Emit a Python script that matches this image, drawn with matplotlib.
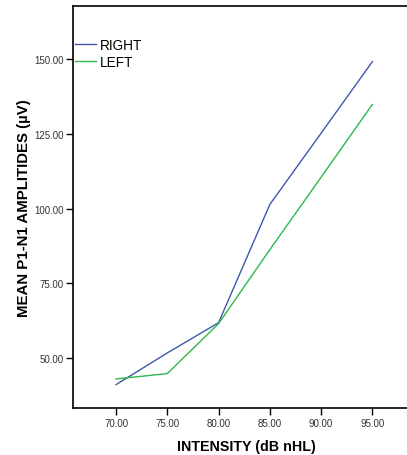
import matplotlib
matplotlib.use("Agg")
import matplotlib.pyplot as plt

intensity = [70, 75, 80, 85, 90, 95]
right_vals = [41.2, 51.8, 61.9, 101.4, 125.2, 149.1]
left_vals = [43.1, 44.9, 61.6, 86.3, 110.5, 134.8]
xticks = [70, 75, 80, 85, 90, 95]
yticks = [50, 75, 100, 125, 150]

plt.rcParams['font.family'] = ['Liberation Sans', 'DejaVu Sans']

W, H = 407, 456
fig = plt.figure(figsize=(W / 100, H / 100), dpi=100)
left_px, right_px, top_px, bottom_px = 73.3, 419.0, 7.3, 409.3
ax = fig.add_axes([left_px / W, 1 - bottom_px / H, (right_px - left_px) / W, (bottom_px - top_px) / H])

ax.plot(intensity, right_vals, color='#3E58AC', lw=1.0, label='RIGHT')
ax.plot(intensity, left_vals, color='#2EB848', lw=1.0, label='LEFT')

ax.set_xlim(65.83, 99.55)
ax.set_ylim(33.3, 167.6)
ax.set_xticks(xticks)
ax.set_xticklabels([f"{v:.2f}" for v in xticks])
ax.set_yticks(yticks)
ax.set_yticklabels([f"{v:.2f}" for v in yticks])
ax.tick_params(axis='both', labelsize=7, labelcolor='#333333', length=5, width=1.0, direction='out', pad=2)
for s in ax.spines.values():
    s.set_linewidth(1.2)

ax.set_xlabel('INTENSITY (dB nHL)', fontsize=10.3, fontweight='bold', labelpad=8)
ax.set_ylabel('MEAN P1-N1 AMPLITIDES (µV)', fontsize=10.8, fontweight='bold', labelpad=2)

leg = ax.legend(loc='upper left', bbox_to_anchor=(0.005, 0.922), frameon=False, fontsize=9.8,
                handlelength=1.55, handletextpad=0.3, borderpad=0, borderaxespad=0, labelspacing=0.22)

fig.savefig('out.png', dpi=100)
